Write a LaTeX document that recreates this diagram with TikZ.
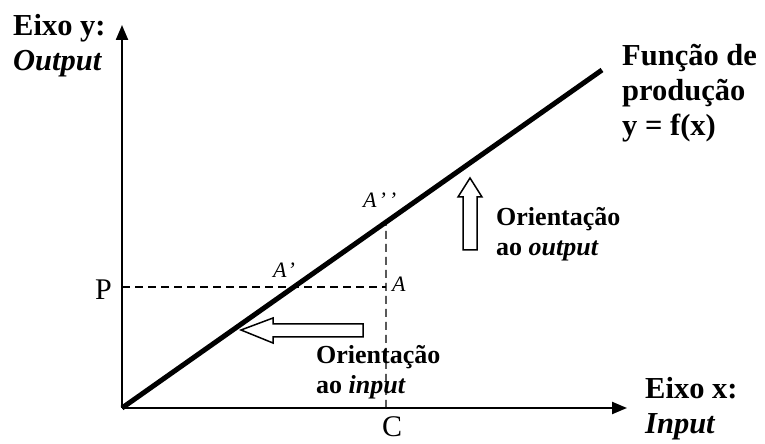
\documentclass[tikz,border=0pt]{standalone}
\usepackage{fontspec}
\setmainfont{Liberation Serif}
\usetikzlibrary{arrows.meta,calc,positioning}

\tikzset{
  axis/.style={line width=2.2pt,-{Triangle[length=15pt,width=12pt]}},
  guide/.style={line width=1.4pt,dash pattern=on 8pt off 5pt},
  prodline/.style={line width=5pt},
  hollow/.style={draw,line width=1.5pt,fill=white,line join=miter},
  biglabel/.style={font=\bfseries\fontsize{30.5}{35}\selectfont,align=left,inner sep=0pt,anchor=north west},
  smalllabel/.style={font=\bfseries\fontsize{26}{30}\selectfont,align=left,inner sep=0pt,anchor=north west},
  ptlabel/.style={font=\itshape\fontsize{22}{24}\selectfont,inner sep=0pt,anchor=base west},
  levlabel/.style={font=\fontsize{30}{32}\selectfont,inner sep=0pt,anchor=base west}
}

\begin{document}
\begin{tikzpicture}[x=1pt,y=1pt]
  \useasboundingbox (0,0) rectangle (765,444);
  \coordinate (O) at (122,36);
  \coordinate (ytip) at (122,419);
  \coordinate (xtip) at (627,36);
  \coordinate (F) at (602,374);
  \coordinate (Plev) at (122,157);
  \coordinate (Cfoot) at (386,36);
  \coordinate (A) at (Cfoot |- Plev);
  \coordinate (A1) at (intersection of O--F and Plev--A);
  \coordinate (A2) at (intersection of O--F and Cfoot--A);

  \draw[axis] (O) -- (ytip);
  \draw[axis] (O) -- (xtip);
  \draw[guide] (Plev) -- (A);
  \draw[guide] (Cfoot) -- (A2);
  \draw[prodline] (O) -- (F);

  \draw[hollow] (241,114) -- (273,126) -- (273,120) -- (363,120)
    -- (363,107) -- (273,107) -- (273,101) -- cycle;
  \draw[hollow] (470,266) -- (482,247) -- (477,247) -- (477,194)
    -- (463,194) -- (463,247) -- (458,247) -- cycle;

  \node[biglabel] (ylab) at (13,430) {Eixo y:\\\textit{Output}};
  \node[biglabel] (xlab) at (645,67) {Eixo x:\\\textit{Input}};
  \node[biglabel] (flab) at (622,400) {Função de\\produção\\y = f(x)};
  \node[smalllabel] (outlab) at (496,237) {Orientação\\ao \textit{output}};
  \node[smalllabel] (inlab) at (316,99) {Orientação\\ao \textit{input}};

  \node[levlabel] (Plab) at (95,144) {P};
  \node[levlabel] (Clab) at (382,7) {C};
  \node[ptlabel] (Alab) at (392,152) {A};
  \node[ptlabel] (A1lab) at (273,166) {A\kern1pt’};
  \node[ptlabel] (A2lab) at (363,236) {A\kern2pt’\kern3pt’};
\end{tikzpicture}
\end{document}
